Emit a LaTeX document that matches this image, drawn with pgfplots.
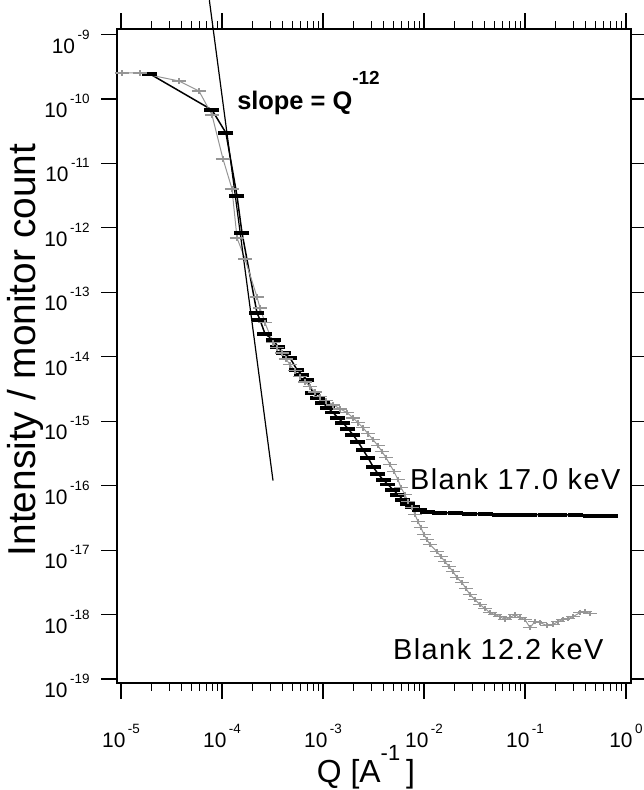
\documentclass[border=0pt]{standalone}
\usepackage{fontspec}
\setmainfont{Liberation Sans}
\newfontfamily\spaced[LetterSpace=5]{Liberation Sans}
\usepackage{pgfplots}
\usepackage{pgfplotstable}
\pgfplotsset{compat=1.18}
\definecolor{mygray}{RGB}{150,150,150}
\newcommand\tl[1]{10\hspace{2.5bp}\raisebox{14bp}{\fontsize{13.5}{13.5}\selectfont #1}}

\pgfplotstableread{
q i
1.937e-5 2.44e-10
7.96e-5 6.75e-11
1.095e-4 2.97e-11
1.408e-4 3.13e-12
1.578e-4 8.37e-13
2.22e-4 4.81e-14
2.378e-4 3.75e-14
2.665e-4 2.27e-14
3.2e-4 1.84e-14
3.585e-4 1.43e-14
4.02e-4 1.15e-14
4.71e-4 9.64e-15
5.53e-4 6.29e-15
6.19e-4 5.26e-15
6.94e-4 4.40e-15
7.96e-4 2.77e-15
8.92e-4 2.31e-15
1.0e-3 1.94e-15
1.12e-3 1.62e-15
1.256e-3 1.36e-15
1.407e-3 1.13e-15
1.578e-3 9.48e-16
1.768e-3 7.65e-16
1.98e-3 6.18e-16
2.22e-3 4.81e-16
2.49e-3 3.61e-16
2.79e-3 2.72e-16
3.13e-3 1.97e-16
3.50e-3 1.53e-16
3.93e-3 1.24e-16
4.40e-3 1.04e-16
4.93e-3 8.67e-17
5.53e-3 7.25e-17
6.19e-3 6.07e-17
6.94e-3 5.26e-17
7.78e-3 4.72e-17
9.13e-3 4.25e-17
1.072e-2 3.95e-17
1.44e-2 3.81e-17
2.03e-2 3.75e-17
2.85e-2 3.68e-17
4.02e-2 3.62e-17
5.65e-2 3.55e-17
7.96e-2 3.55e-17
0.112 3.55e-17
0.158 3.55e-17
0.222 3.55e-17
0.313 3.49e-17
0.441 3.43e-17
0.553 3.43e-17
0.695 3.43e-17
}\blackdata

\pgfplotstableread{
q i
1.023e-5 2.53e-10
1.542e-5 2.53e-10
3.75e-5 1.90e-10
5.92e-5 1.33e-10
7.96e-5 5.65e-11
1.023e-4 1.175e-11
1.256e-4 4.03e-12
1.408e-4 7.0e-13
1.69e-4 3.30e-13
2.22e-4 8.51e-14
2.378e-4 5.75e-14
2.665e-4 3.37e-14
3.2e-4 1.65e-14
3.51e-4 1.38e-14
3.93e-4 1.15e-14
4.30e-4 9.31e-15
4.71e-4 7.52e-15
5.28e-4 6.07e-15
5.92e-4 4.9e-15
6.64e-4 4.09e-15
7.43e-4 3.43e-15
8.34e-4 2.86e-15
9.33e-4 2.40e-15
1.07e-3 2.08e-15
1.256e-3 1.80e-15
1.47e-3 1.56e-15
1.728e-3 1.36e-15
1.98e-3 1.13e-15
2.22e-3 9.48e-16
2.49e-3 7.93e-16
2.79e-3 6.40e-16
3.13e-3 5.17e-16
3.50e-3 4.17e-16
3.84e-3 3.37e-16
4.21e-3 2.72e-16
4.61e-3 2.12e-16
5.05e-3 1.65e-16
5.53e-3 1.24e-16
5.92e-3 9.31e-17
6.49e-3 7.24e-17
6.95e-3 5.65e-17
7.60e-3 4.56e-17
8.15e-3 3.55e-17
8.73e-3 2.77e-17
9.33e-3 2.23e-17
1.0e-2 1.74e-17
1.07e-2 1.46e-17
1.146e-2 1.22e-17
1.345e-2 9.47e-18
1.47e-2 7.93e-18
1.615e-2 6.64e-18
1.77e-2 5.55e-18
1.937e-2 4.65e-18
2.12e-2 3.75e-18
2.38e-2 3.13e-18
2.61e-2 2.53e-18
2.85e-2 2.04e-18
3.20e-2 1.71e-18
3.58e-2 1.43e-18
4.02e-2 1.24e-18
4.50e-2 1.07e-18
5.05e-2 1.0e-18
5.65e-2 9.31e-19
6.34e-2 8.36e-19
7.10e-2 8.98e-19
7.96e-2 1.0e-18
8.92e-2 8.98e-19
0.1 8.36e-19
0.112 6.28e-19
0.1256 7.78e-19
0.141 7.51e-19
0.165 6.75e-19
0.189 7.0e-19
0.212 7.78e-19
0.238 8.36e-19
0.267 8.67e-19
0.299 9.31e-19
0.351 1.07e-18
0.393 1.11e-18
0.441 1.04e-18
}\graydata

\pgfplotstableread{
q i
7.5e-5 3.4e-9
3.2e-4 1.2e-16
}\slopeline

\begin{document}
\begin{tikzpicture}
\begin{axis}[
  scale only axis,
  width=514bp, height=654bp,
  xmode=log, ymode=log,
  xmin=9.13e-6, xmax=1.121,
  ymin=8.67e-20, ymax=1.216e-9,
  clip=false,
  axis line style={line width=1.5bp},
  tick align=outside,
  major tick length=16bp,
  minor tick length=8bp,
  every tick/.style={black, line width=1.2bp},
  yminorticks=false,
  xtick={1e-5,1e-4,1e-3,1e-2,1e-1,1},
  xticklabels={\tl{-5},\tl{-4},\tl{-3},\tl{-2},\tl{-1},\tl{0}},
  ytick={1e-19,1e-18,1e-17,1e-16,1e-15,1e-14,1e-13,1e-12,1e-11,1e-10,1e-9},
  yticklabels={\tl{-19},\tl{-18},\tl{-17},\tl{-16},\tl{-15},\tl{-14},\tl{-13},\tl{-12},\tl{-11},\tl{-10},\tl{-9}},
  ticklabel style={font=\fontsize{21}{21}\selectfont},
  xticklabel style={anchor=north, yshift=-22bp},
  yticklabel style={anchor=east, xshift=-8bp, yshift=-7bp},
  xlabel={Q [A\raisebox{22bp}{\fontsize{22}{22}\selectfont -1}\hspace{6bp}]},
  xlabel style={font=\fontsize{32}{32}\selectfont, at={(axis description cs:0.5,0)}, anchor=base, yshift=-99bp, xshift=-8bp},
  ylabel={Intensity / monitor count},
  ylabel style={font=\fontsize{39}{39}\selectfont, at={(axis description cs:-0.178,0.509)}, anchor=center},
]
\addplot[black, line width=1.5bp, mark=-, mark size=7.5bp, mark options={line width=3.8bp}] table[x=q,y=i]{\blackdata};
\addplot[mygray, line width=1bp, mark=+, mark size=7bp, mark options={line width=1.5bp, yscale=0.4}] table[x=q,y=i]{\graydata};
\addplot[black, line width=1.2bp, no marks] table[x=q,y=i]{\slopeline};
\node[anchor=base west, font=\bfseries\fontsize{25.5}{25.5}\selectfont, inner sep=0pt] at (axis cs:1.41e-4,6.75e-11) {slope = Q\raisebox{25bp}{\fontsize{19}{19}\selectfont -12}};
\node[anchor=base west, font=\spaced\fontsize{29}{29}\selectfont, inner sep=0pt] at (axis cs:7.26e-3,8.67e-17) {Blank 17.0 keV};
\node[anchor=base west, font=\spaced\fontsize{29}{29}\selectfont, inner sep=0pt] at (axis cs:4.93e-3,2.0e-19) {Blank 12.2 keV};
\end{axis}
\pgfresetboundingbox
\path (-117bp,-107bp) rectangle (527bp,683bp);
\end{tikzpicture}
\end{document}
